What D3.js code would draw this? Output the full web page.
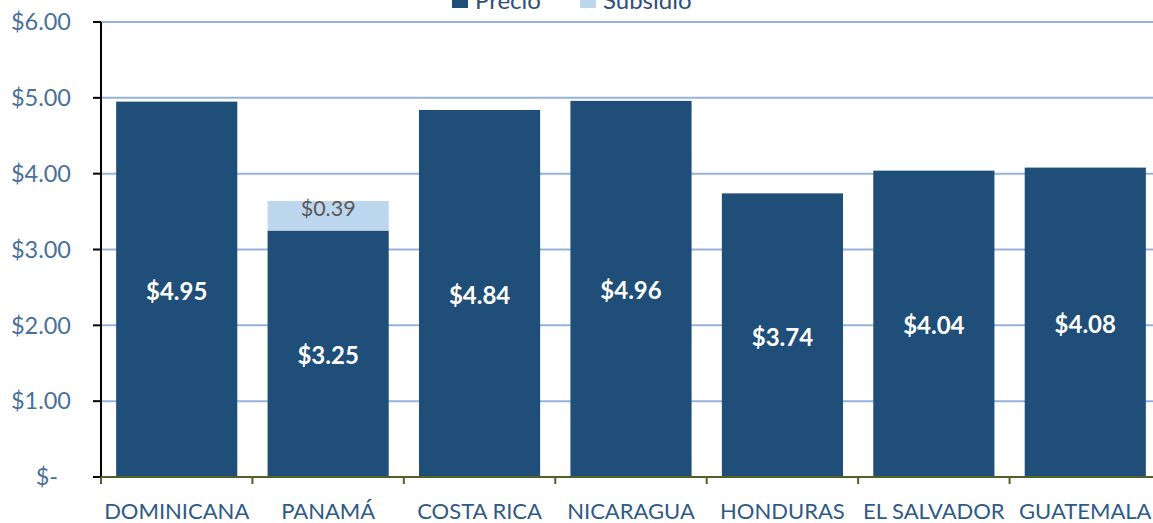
<!DOCTYPE html>
<html><head><meta charset="utf-8">
<script src="https://cdn.jsdelivr.net/npm/d3@7"></script>
<style>body{margin:0;background:#fff}svg{display:block}</style>
</head><body>
<svg id="c" width="1153" height="523"></svg>
<script>
const categories = ["DOMINICANA","PANAMÁ","COSTA RICA","NICARAGUA","HONDURAS","EL SALVADOR","GUATEMALA"];
const precio = [4.95,3.25,4.84,4.96,3.74,4.04,4.08];
const subsidio = [0,0.39,0,0,0,0,0];
const yTicks = [0,1,2,3,4,5,6];
const seriesNames = ["Precio","Subsidio"];

const font = "Lato, 'Open Sans', sans-serif";
const svg = d3.select("#c");
const x0 = 101, x1 = 1161, yTop = 22, yBot = 477;
const x = d3.scaleBand().domain(categories).range([x0,x1]).paddingInner(0.2).paddingOuter(0.1);
const y = d3.scaleLinear().domain([0,6]).range([yBot,yTop]);
const colP = "#1f4e79", colS = "#bdd7ee";

// gridlines
svg.append("g").selectAll("line").data(yTicks.filter(d=>d>0)).join("line")
  .attr("x1",x0).attr("x2",1153).attr("y1",d=>y(d)).attr("y2",d=>y(d))
  .attr("stroke","#94b2de").attr("stroke-width",2);

// bars
const stack = categories.map((c,i)=>({c,p:precio[i],s:subsidio[i]}));
svg.append("g").selectAll("rect").data(stack).join("rect")
  .attr("x",d=>x(d.c)).attr("width",x.bandwidth())
  .attr("y",d=>y(d.p)).attr("height",d=>y(0)-y(d.p)).attr("fill",colP);
svg.append("g").selectAll("rect").data(stack.filter(d=>d.s>0)).join("rect")
  .attr("x",d=>x(d.c)).attr("width",x.bandwidth())
  .attr("y",d=>y(d.p+d.s)).attr("height",d=>y(d.p)-y(d.p+d.s)).attr("fill",colS);

// value labels
svg.append("g").selectAll("text").data(stack).join("text")
  .attr("x",d=>x(d.c)+x.bandwidth()/2).attr("y",d=>(y(d.p)+y(0))/2+2)
  .attr("dy","0.35em").attr("text-anchor","middle")
  .attr("font-family",font).attr("font-size",24).attr("font-weight","bold")
  .attr("fill","#fff").text(d=>"$"+d.p.toFixed(2));
svg.append("g").selectAll("text").data(stack.filter(d=>d.s>0)).join("text")
  .attr("x",d=>x(d.c)+x.bandwidth()/2).attr("y",d=>(y(d.p)+y(d.p+d.s))/2-7)
  .attr("dy","0.35em").attr("text-anchor","middle")
  .attr("font-family",font).attr("font-size",21.5)
  .attr("fill","#595959").text(d=>"$"+d.s.toFixed(2));

// y axis
const ya = svg.append("g");
ya.append("line").attr("x1",x0).attr("x2",x0).attr("y1",y(6)).attr("y2",y(0)).attr("stroke","#000").attr("stroke-width",2);
ya.selectAll("line.t").data(yTicks).join("line").attr("class","t")
  .attr("x1",x0-8).attr("x2",x0).attr("y1",d=>y(d)).attr("y2",d=>y(d)).attr("stroke","#000").attr("stroke-width",2);
ya.selectAll("text").data(yTicks).join("text")
  .attr("x",d=>d===0?58:71).attr("y",d=>y(d)).attr("dy","0.35em").attr("text-anchor","end")
  .attr("font-family",font).attr("font-size",23.5).attr("fill","#4a719c")
  .text(d=>d===0?"$-":"$"+d.toFixed(2));

// x axis
const xa = svg.append("g");
xa.append("line").attr("x1",x0).attr("x2",x1).attr("y1",yBot).attr("y2",yBot).attr("stroke","#4f6228").attr("stroke-width",2);
const edge = categories.map(c=>x(c)-x.step()*x.paddingInner()/2);
xa.selectAll("line.t").data(edge).join("line").attr("class","t")
  .attr("x1",d=>d).attr("x2",d=>d).attr("y1",yBot).attr("y2",yBot+7).attr("stroke","#4f6228").attr("stroke-width",2);
xa.selectAll("text").data(categories).join("text")
  .attr("x",d=>x(d)+x.bandwidth()/2).attr("y",519).attr("text-anchor","middle")
  .attr("font-family",font).attr("font-size",22).attr("fill","#2f5a87").text(d=>d);

// legend
const lg = svg.append("g");
const lx = [452,580];
lg.selectAll("rect").data(seriesNames).join("rect")
  .attr("x",(d,i)=>lx[i]).attr("y",-8).attr("width",16).attr("height",16)
  .attr("fill",(d,i)=>i===0?colP:colS);
lg.selectAll("text").data(seriesNames).join("text")
  .attr("x",(d,i)=>lx[i]+23).attr("y",9).attr("font-family",font).attr("font-size",24)
  .attr("fill","#2f4f78").text(d=>d);
</script>
</body></html>
